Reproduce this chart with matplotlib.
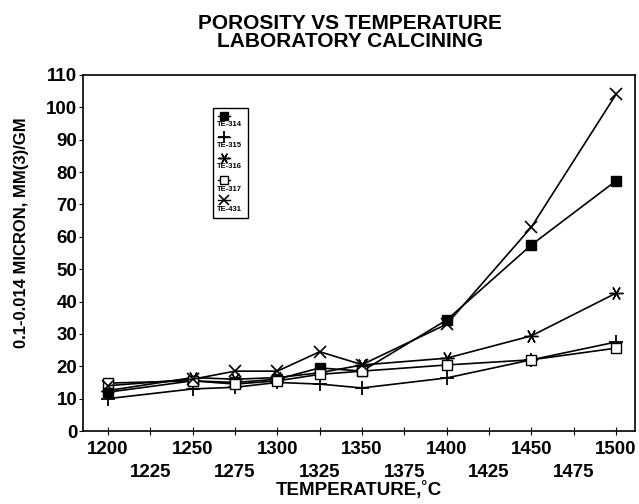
import matplotlib
matplotlib.use("Agg")
import matplotlib.pyplot as plt
from matplotlib.patches import Rectangle

plt.rcParams["font.family"] = ["Liberation Sans", "DejaVu Sans"]

temps = [1200, 1250, 1275, 1300, 1325, 1350, 1400, 1450, 1500]
te314 = [12.0, 15.5, 15.0, 16.0, 19.5, 18.5, 34.3, 57.5, 77.3]
te315 = [10.0, 13.0, 13.5, 15.0, 14.5, 13.3, 16.4, 22.0, 27.5]
te316 = [12.5, 16.5, 16.0, 16.5, 18.0, 20.4, 22.5, 29.4, 42.6]
te317 = [14.8, 15.5, 14.5, 15.5, 17.5, 18.5, 20.4, 22.0, 25.6]
te431 = [14.0, 16.0, 18.5, 18.5, 24.5, 20.5, 33.0, 63.0, 104.0]
names = ["TE-314", "TE-315", "TE-316", "TE-317", "TE-431"]

major_ticks = [1200, 1250, 1300, 1350, 1400, 1450, 1500]
minor_ticks = [1225, 1275, 1325, 1375, 1425, 1475]
y_ticks = list(range(0, 111, 10))

# marker style per series
styles = [
    dict(marker="s", ms=7, mfc="black", mec="black"),
    dict(marker="+", ms=10, mew=1.3),
    dict(marker=(6, 2, 90), ms=10, mew=1.0),
    dict(marker="s", ms=7, mfc="white", mec="black", mew=1.0),
    dict(marker="x", ms=9, mew=1.2),
]

fig = plt.figure(figsize=(6.39, 5.04), dpi=100)
ax = fig.add_axes([83 / 639, 73 / 504, 552 / 639, 356 / 504])

for vals, st in zip([te314, te315, te316, te317, te431], styles):
    ax.plot(temps, vals, color="black", linewidth=1.2, **st)

ax.set_xlim(1185.2, 1511.2)
ax.set_ylim(0, 110)
ax.set_yticks(y_ticks)
ax.set_xticks(major_ticks)
ax.set_xticks(minor_ticks, minor=True)
ax.set_xticklabels([str(t) for t in major_ticks], fontsize=13.5, fontweight="bold")
ax.set_xticklabels([str(t) for t in minor_ticks], minor=True, fontsize=13.5, fontweight="bold")
ax.set_yticklabels([str(t) for t in y_ticks], fontsize=13.5, fontweight="bold")
ax.tick_params(axis="x", which="both", direction="inout", length=6, width=0.8)
ax.tick_params(axis="x", which="major", pad=4)
ax.tick_params(axis="x", which="minor", pad=21)
ax.tick_params(axis="y", direction="out", length=3, width=0.8, pad=1)
for s in ax.spines.values():
    s.set_linewidth(1.2)

ax.set_xlabel("TEMPERATURE,˚C", fontsize=13.5, fontweight="bold", labelpad=0)
ax.set_ylabel("0.1-0.014 MICRON, MM(3)/GM", fontsize=12, fontweight="bold")
ax.yaxis.set_label_coords(-0.098, 0.556)

fig.text(0.548, 0.935, "POROSITY VS TEMPERATURE\nLABORATORY CALCINING",
         ha="center", va="center", fontsize=15, fontweight="bold", linespacing=0.95)

# hand-drawn legend box: marker above each label
ax.add_patch(Rectangle((0.2355, 0.598), 0.064, 0.309, transform=ax.transAxes,
                       fill=False, edgecolor="black", linewidth=1.0, zorder=5))
mark_y = [0.885, 0.826, 0.767, 0.705, 0.649]
text_y = [0.860, 0.803, 0.742, 0.677, 0.621]
for name, st, my, ty in zip(names, styles, mark_y, text_y):
    st2 = dict(st)
    st2["ms"] = st["ms"] * 0.8
    ax.plot([0.2444, 0.2554, 0.2664], [my, my, my], color="black", linewidth=1.0,
            markevery=[1], transform=ax.transAxes, clip_on=False, zorder=6, **st2)
    ax.text(0.2428, ty, name, transform=ax.transAxes, fontsize=5.5,
            fontweight="bold", va="center", ha="left", zorder=6)

fig.savefig("out.png", dpi=100)
